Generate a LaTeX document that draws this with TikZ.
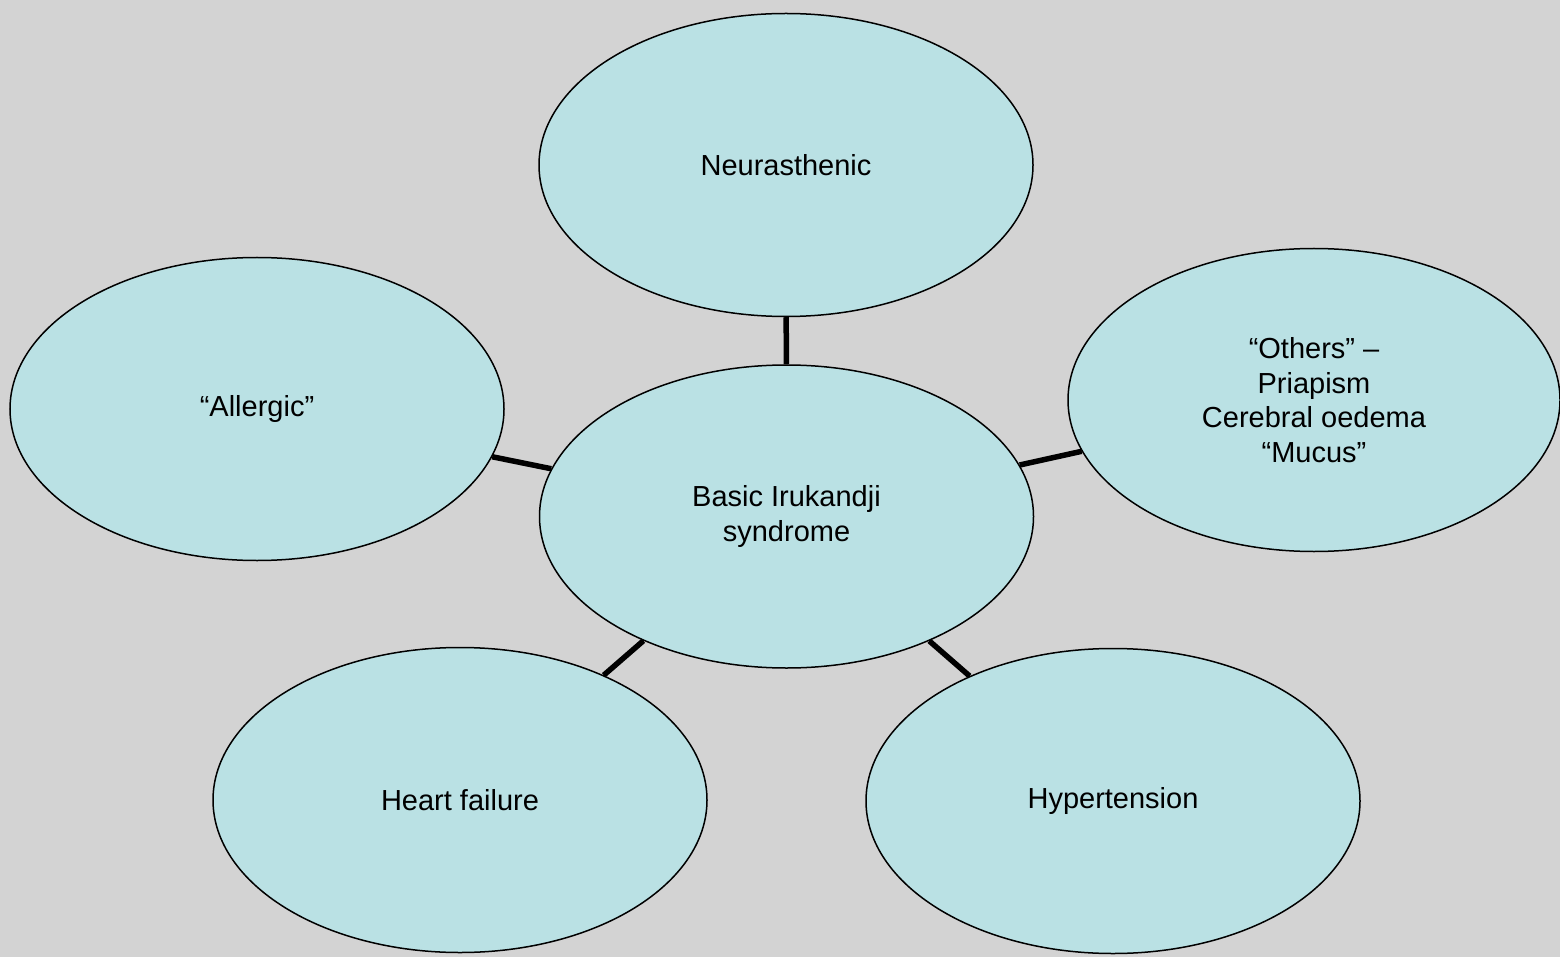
\documentclass[tikz,border=0pt]{standalone}
\usepackage{fontspec}
\setmainfont{Liberation Sans}
\usetikzlibrary{shapes.geometric}
\definecolor{bgc}{HTML}{D3D3D3}
\definecolor{fillc}{HTML}{BAE1E4}
\tikzset{
  bubble/.style={ellipse, draw=black, line width=1.5pt, fill=fillc, inner sep=0pt,
    minimum width=494pt, minimum height=303pt,
    align=center, font=\fontsize{29}{34.5}\selectfont},
  link/.style={line width=5.5pt, draw=black}
}
\begin{document}
\begin{tikzpicture}[x=1pt,y=-1pt]
\fill[bgc] (0,0) rectangle (1560,957);
\useasboundingbox (0,0) rectangle (1560,957);
\node[bubble] (neu) at (786,165) {Neurasthenic};
\node[bubble] (all) at (257,409) {“Allergic”};
\node[bubble, minimum width=492pt] (oth) at (1314,400) {“Others” –\\Priapism\\Cerebral oedema\\“Mucus”};
\node[bubble, minimum height=305pt] (hf) at (460,800) {Heart failure};
\node[bubble, minimum height=305pt] (hyp) at (1113,801) {Hypertension};
\node[bubble] (bas) at (786.5,516.5) {Basic Irukandji\\syndrome};
\draw[link] (neu) -- (bas);
\draw[link] (all) -- (bas);
\draw[link] (oth) -- (bas);
\draw[link] (hf) -- (bas);
\draw[link] (hyp) -- (bas);
\end{tikzpicture}
\end{document}
